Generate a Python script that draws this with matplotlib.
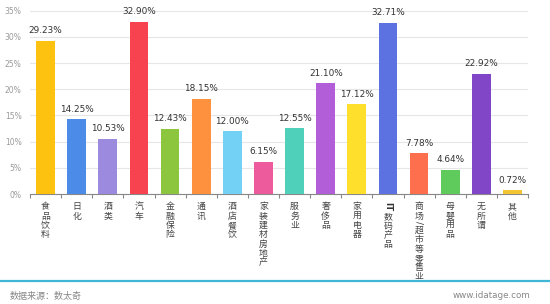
import numpy as np
import matplotlib.pyplot as plt
from matplotlib.lines import Line2D

plt.rcParams['font.family'] = ['Noto Sans CJK SC', 'DejaVu Sans']

categories = ["食品饮料", "日化", "酒类", "汽车", "金融保险", "通讯", "酒店餐饮",
              "家装建材房地产", "服务业", "奢侈品", "家用电器", "IT数码产品",
              "商场/超市等零售业", "母婴用品", "无所谓", "其他"]
values = [29.23, 14.25, 10.53, 32.90, 12.43, 18.15, 12.00, 6.15,
          12.55, 21.10, 17.12, 32.71, 7.78, 4.64, 22.92, 0.72]
colors = ["#FDC20F", "#4D8BE8", "#9C8ADF", "#F6434F", "#8CC63E", "#FE913D",
          "#72D1F4", "#EE5B9C", "#4ED0BA", "#B25ED8", "#FEDF2C", "#5B72E0",
          "#FE6F4E", "#5FCB5D", "#8046C7", "#F3C532"]
yticks = [0, 5, 10, 15, 20, 25, 30, 35]

fig = plt.figure(figsize=(5.5, 3.04), dpi=100)
ax = fig.add_axes([30/550, 1 - 194/304, 498/550, (194 - 10.7)/304])

x = np.arange(len(categories))
ax.bar(x, values, width=0.6, color=colors, zorder=3)

for i, v in enumerate(values):
    ax.annotate("%.2f%%" % v, (i, v), xytext=(0, 4), textcoords="offset points",
                ha="center", va="bottom", fontsize=6.4, color="#333333",
                family="DejaVu Sans", annotation_clip=False)

ax.set_xlim(-0.5, len(categories) - 0.5)
ax.set_ylim(0, 35)
ax.set_yticks(yticks)
ax.set_yticklabels(["%d%%" % t for t in yticks], fontsize=5.5, color="#999999",
                   family="DejaVu Sans")
ax.yaxis.grid(True, color="#e6e6e6", linewidth=0.8, zorder=0)
ax.tick_params(axis="y", length=0, pad=6)
for s in ["top", "right", "left"]:
    ax.spines[s].set_visible(False)
ax.spines["bottom"].set_color("#888888")
ax.spines["bottom"].set_linewidth(0.8)

# ticks at category boundaries
ax.set_xticks(np.arange(len(categories) + 1) - 0.5)
ax.set_xticklabels([])
ax.tick_params(axis="x", length=3, color="#888888", direction="out")

# vertical category labels: CJK chars stacked, latin runs rotated
step = 6.7
for i, cat in enumerate(categories):
    off = -6
    runs = []
    for ch in cat:
        if ord(ch) < 128 and runs and runs[-1][1]:
            runs[-1][0] += ch
        else:
            runs.append([ch, ord(ch) < 128])
    for txt, latin in runs:
        if latin:
            ax.annotate(txt, (i, 0), xycoords=("data", "axes fraction"),
                        xytext=(0, off), textcoords="offset points", rotation=-90,
                        ha="center", va="top", fontsize=6.3, color="#333333",
                        fontweight="bold" if txt == "IT" else "normal",
                        family="DejaVu Sans")
            off -= 3.6 * len(txt)
        else:
            ax.annotate(txt, (i, 0), xycoords=("data", "axes fraction"),
                        xytext=(0, off), textcoords="offset points",
                        ha="center", va="top", fontsize=6.4, color="#444444")
            off -= step

# bottom rule and footer
fig.add_artist(Line2D([0, 1], [1 - 281/304] * 2, color="#3fb6d6", linewidth=1.6,
                      transform=fig.transFigure))
fig.text(10/550, 1 - 296/304, "数据来源：数太奇", fontsize=6.5, color="#888888",
         va="center")
fig.text(530/550, 1 - 296/304, "www.idatage.com", fontsize=6.3, color="#888888",
         va="center", ha="right", family="DejaVu Sans")

fig.savefig("out.png", dpi=100)
